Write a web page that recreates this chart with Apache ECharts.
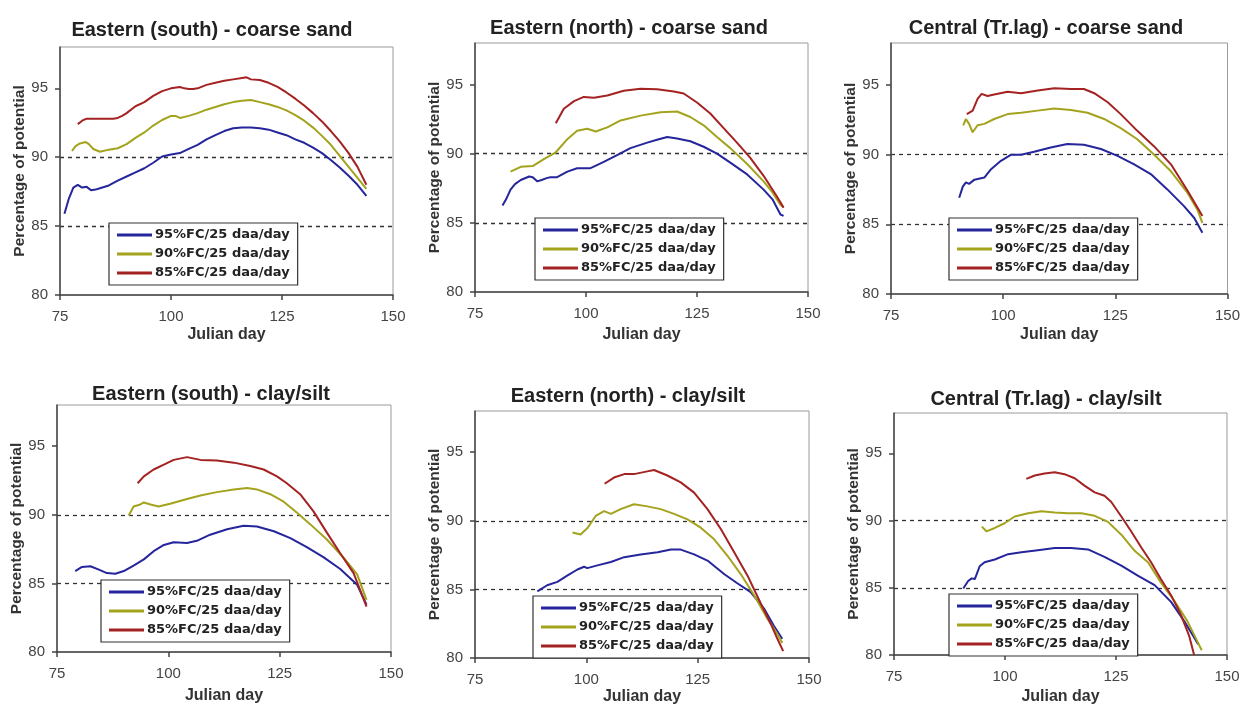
<!DOCTYPE html>
<html>
<head>
<meta charset="utf-8">
<script src="https://cdn.jsdelivr.net/npm/echarts@6/dist/echarts.min.js"></script>
<style>
html,body{margin:0;padding:0;background:#fff;}
#chart{width:1243px;height:706px;}
</style>
</head>
<body>
<div id="chart"></div>
<script>
// ---------- labels ----------
const panelTitles = [
  'Eastern (south) - coarse sand',
  'Eastern (north) - coarse sand',
  'Central (Tr.lag) - coarse sand',
  'Eastern (south) - clay/silt',
  'Eastern (north) - clay/silt',
  'Central (Tr.lag) - clay/silt'
];
const seriesNames = ['95%FC/25 daa/day', '90%FC/25 daa/day', '85%FC/25 daa/day'];
const xTicks = [75, 100, 125, 150];
const yTicks = [80, 85, 90, 95];
const xAxisName = 'Julian day';
const yAxisName = 'Percentage of potential';

// ---------- data: [Julian day, percentage of potential] ----------
// Panel 1: Eastern (south) - coarse sand
const esCoarse95 = [[76,85.9],[77,87.0],[78,87.8],[79,88.0],[80,87.8],[81,87.85],[82,87.6],[83,87.65],[84,87.75],[86,87.95],[88,88.3],[90,88.6],[92,88.9],[94,89.2],[96,89.6],[98,90.05],[100,90.2],[102,90.3],[104,90.6],[106,90.9],[108,91.3],[110,91.6],[112,91.9],[114,92.1],[116,92.15],[118,92.15],[120,92.1],[122,92.0],[124,91.8],[126,91.6],[128,91.3],[130,91.05],[132,90.7],[134,90.3],[136,89.8],[138,89.25],[140,88.65],[142,88.0],[144,87.2]];
const esCoarse90 = [[77.7,90.45],[78.5,90.8],[79.5,91.0],[80.8,91.1],[81.5,90.95],[82.5,90.6],[84,90.4],[86,90.55],[88,90.65],[90,90.95],[92,91.4],[94,91.8],[96,92.3],[98,92.7],[100,93.0],[101,93.0],[102,92.85],[104,93.0],[106,93.2],[108,93.45],[110,93.65],[112,93.85],[114,94.0],[116,94.1],[118,94.15],[120,94.0],[122,93.85],[124,93.65],[126,93.4],[128,93.05],[130,92.65],[132,92.15],[134,91.55],[136,90.9],[138,90.1],[140,89.3],[142,88.5],[144,87.7]];
const esCoarse85 = [[79,92.4],[80,92.65],[81,92.8],[83,92.8],[85,92.8],[87,92.8],[88,92.85],[89,93.0],[90,93.2],[92,93.7],[94,94.0],[96,94.45],[98,94.8],[100,95.0],[102,95.1],[103,95.0],[104,94.95],[105,94.95],[106,95.0],[108,95.25],[110,95.4],[112,95.55],[114,95.65],[116,95.75],[117,95.8],[118,95.65],[120,95.6],[122,95.4],[124,95.1],[126,94.7],[128,94.25],[130,93.75],[132,93.2],[134,92.6],[136,91.9],[138,91.15],[140,90.3],[142,89.3],[144,88.0]];

// Panel 2: Eastern (north) - coarse sand
const enCoarse95 = [[81.2,86.25],[82,86.7],[83,87.4],[84,87.8],[85.3,88.1],[87.2,88.35],[88,88.3],[89,88.0],[90,88.1],[91.3,88.25],[92,88.3],[93.5,88.3],[95.8,88.7],[98,88.95],[101,88.95],[102,89.1],[104,89.4],[107,89.9],[110,90.4],[113.8,90.8],[116,91.0],[118.3,91.2],[120.5,91.1],[123.5,90.9],[126.5,90.5],[129.5,90.0],[132.5,89.35],[136.3,88.5],[140,87.4],[142,86.7],[143.8,85.6],[144.5,85.5]];
const enCoarse90 = [[83,88.7],[85.3,89.05],[88,89.1],[90.5,89.6],[93.2,90.1],[95.8,91.05],[98,91.65],[100.3,91.8],[102.2,91.6],[104.8,91.9],[107.8,92.4],[112.3,92.75],[116.8,93.0],[120.5,93.05],[123.5,92.65],[126.5,92.05],[129.5,91.2],[132.5,90.4],[136.3,89.25],[140,88.0],[142,87.2],[143.8,86.3],[144.5,86.1]];
const enCoarse85 = [[93.2,92.2],[95,93.25],[97.3,93.8],[99.5,94.1],[101.8,94.05],[104.8,94.2],[108.5,94.55],[112.3,94.7],[116,94.65],[119.8,94.5],[122,94.35],[125,93.7],[128,92.9],[131,91.85],[134,90.8],[137,89.7],[140,88.4],[143,86.9],[144.5,86.1]];

// Panel 3: Central (Tr.lag) - coarse sand
const ctCoarse95 = [[90.2,86.9],[91,87.7],[91.7,88.0],[92.4,87.9],[93.6,88.2],[95.8,88.35],[97.3,88.95],[99.5,89.55],[101.7,89.98],[104,89.98],[106.9,90.2],[110.6,90.5],[114.3,90.75],[118,90.7],[121.8,90.4],[125.5,89.9],[129.2,89.3],[132.9,88.6],[136.6,87.5],[140.3,86.3],[142.6,85.45],[144.4,84.4]];
const ctCoarse90 = [[91.1,92.1],[91.7,92.55],[92.4,92.2],[93.2,91.6],[94.3,92.1],[95.8,92.2],[98,92.55],[101,92.9],[104,93.0],[107.7,93.15],[111.4,93.3],[115.1,93.2],[118.8,93.0],[122.5,92.55],[126.2,91.9],[129.9,91.1],[133.6,90.0],[137.4,88.8],[141.1,87.25],[143.3,86.05],[144.4,85.1]];
const ctCoarse85 = [[91.9,92.9],[93.2,93.15],[94.3,94.0],[95.2,94.35],[96.5,94.2],[98,94.3],[101,94.5],[104,94.4],[107.7,94.6],[111.4,94.75],[115.1,94.7],[118,94.7],[120.3,94.4],[123.3,93.75],[126.2,92.9],[129.9,91.7],[133.6,90.6],[137.4,89.3],[141.1,87.4],[143.3,86.2],[144.4,85.6]];

// Panel 4: Eastern (south) - clay/silt
const esClay95 = [[79.1,85.9],[80.6,86.2],[82.5,86.25],[84.4,86.0],[86.2,85.75],[88.1,85.7],[90,85.9],[92.2,86.3],[94.5,86.75],[96.7,87.35],[99,87.8],[101.2,88.0],[104.2,87.95],[106.4,88.1],[109.4,88.55],[113.2,88.95],[116.9,89.2],[119.9,89.15],[123.7,88.8],[127.4,88.3],[131.1,87.65],[134.9,86.9],[138.6,86.05],[142.4,84.9],[144.5,83.45]];
const esClay90 = [[91.1,89.95],[92.2,90.6],[93.7,90.75],[94.5,90.9],[96,90.75],[97.8,90.6],[100.4,90.8],[104.2,91.15],[107.2,91.4],[110.9,91.65],[114.7,91.85],[117.7,91.95],[119.9,91.85],[122.9,91.5],[125.9,90.95],[128.9,90.15],[131.9,89.3],[135.6,88.2],[139.4,86.85],[142.4,85.65],[144.5,83.8]];
const esClay85 = [[93.1,92.3],[94.5,92.8],[96.7,93.3],[99,93.65],[101.2,94.0],[104.2,94.2],[107.2,94.0],[110.9,93.95],[114.7,93.8],[118.4,93.55],[121.4,93.3],[124.4,92.8],[126.6,92.3],[129.6,91.5],[132.6,90.25],[135.6,88.7],[138.6,87.2],[141.6,85.75],[144.5,83.3]];

// Panel 5: Eastern (north) - clay/silt
const enClay95 = [[89,84.85],[91.2,85.3],[93.5,85.55],[95.7,86.0],[98,86.45],[99.5,86.65],[100.2,86.55],[102.5,86.75],[105.5,87.0],[108.5,87.35],[112.2,87.55],[116,87.7],[119,87.9],[121.2,87.9],[124.2,87.55],[127.2,87.1],[131,86.1],[133.9,85.45],[136.9,84.8],[139.9,83.6],[142.1,82.35],[144,81.4]];
const enClay90 = [[96.9,89.15],[98.7,89.0],[100.2,89.45],[102.1,90.35],[104,90.7],[105.5,90.5],[107.7,90.85],[110.7,91.2],[113.7,91.05],[116.7,90.85],[119.7,90.5],[122.7,90.1],[125.7,89.5],[128.7,88.65],[131.7,87.45],[134.7,86.1],[137.7,84.55],[140.7,82.85],[142.9,81.75],[144,81.1]];
const enClay85 = [[104.1,92.7],[106.2,93.15],[108.5,93.4],[110.7,93.4],[113.7,93.6],[115.2,93.7],[118.2,93.3],[121.2,92.8],[124.2,92.05],[127.2,90.85],[130.2,89.4],[133.2,87.7],[136.2,86.0],[139.2,83.95],[141.4,82.5],[142.9,81.4],[144.2,80.5]];

// Panel 6: Central (Tr.lag) - clay/silt
const ctClay95 = [[90.6,84.95],[91.7,85.5],[92.5,85.7],[93.2,85.65],[94.3,86.6],[95.4,86.9],[97.7,87.1],[100.7,87.5],[103.7,87.65],[107.4,87.8],[111.2,87.95],[114.9,87.95],[118.7,87.85],[122.4,87.3],[126.2,86.65],[129.9,85.9],[133.7,85.2],[137.4,83.95],[140.4,82.5],[142.6,81.3],[143.5,80.8]];
const ctClay90 = [[94.8,89.55],[95.8,89.2],[97.7,89.45],[99.9,89.8],[102.2,90.3],[105.2,90.55],[108.2,90.7],[111.2,90.6],[114.2,90.55],[117.2,90.55],[120.2,90.35],[123.2,89.9],[126.2,88.95],[129.2,87.75],[132.2,86.9],[135.1,85.4],[138.1,84.05],[141.1,82.5],[142.6,81.5],[144.3,80.35]];
const ctClay85 = [[104.8,93.1],[106.7,93.35],[108.9,93.5],[111.2,93.6],[113.4,93.45],[115.7,93.15],[117.9,92.6],[120.2,92.1],[122.4,91.85],[123.9,91.4],[126.2,90.3],[128.4,89.2],[130.7,88.0],[132.9,86.9],[135.1,85.65],[137.4,84.45],[139.6,83.0],[141.5,81.4],[142.6,80.0]];

const panelData = [
  [esCoarse95, esCoarse90, esCoarse85],
  [enCoarse95, enCoarse90, enCoarse85],
  [ctCoarse95, ctCoarse90, ctCoarse85],
  [esClay95, esClay90, esClay85],
  [enClay95, enClay90, enClay85],
  [ctClay95, ctClay90, ctClay85]
];

// ---------- layout & style ----------
const seriesColors = ['#25259c', '#a3a31e', '#a42222'];
// plot area boxes [left, top, right, bottom]
const boxes = [
  [60, 47, 393, 295],
  [475, 43, 808, 292],
  [891, 43, 1228, 294],
  [57, 405, 391, 652],
  [475, 411, 809, 659],
  [894, 413, 1227, 660]
];
const titlePos = [[207, 13], [624, 11], [1041, 11], [206, 377], [623, 379], [1041, 382]];
const legendPos = [[109, 223], [535, 218], [949, 218], [101, 580], [533, 596], [949, 594]];
const xNameGap = [32, 35, 33, 36, 31, 34];
const yNameGap = [32, 30, 28, 29, 30, 30];

const grids = [], xAxes = [], yAxes = [], series = [], titles = [], legends = [];

boxes.forEach((b, i) => {
  grids.push({
    left: b[0], top: b[1], width: b[2] - b[0], height: b[3] - b[1],
    show: true, borderColor: '#9a9a9a', borderWidth: 1, backgroundColor: '#fff'
  });
  xAxes.push({
    type: 'value', gridIndex: i, min: xTicks[0], max: xTicks[xTicks.length - 1], interval: 25,
    name: xAxisName, nameLocation: 'middle', nameGap: xNameGap[i],
    nameTextStyle: { fontFamily: 'Liberation Sans, Arial', fontWeight: 'bold', fontSize: 16, color: '#333' },
    axisLine: { show: true, onZero: false, lineStyle: { color: '#444', width: 1.5 } },
    axisTick: { show: true, length: 5, lineStyle: { color: '#444', width: 1.5 } },
    axisLabel: { fontFamily: 'Liberation Sans, Arial', fontSize: 15, color: '#444', margin: 14 },
    splitLine: { show: false }
  });
  yAxes.push({
    type: 'value', gridIndex: i, min: 80, max: 98, interval: 5,
    name: yAxisName, nameLocation: 'middle', nameGap: yNameGap[i],
    nameTextStyle: { fontFamily: 'Liberation Sans, Arial', fontWeight: 'bold', fontSize: 15.5, color: '#333' },
    axisLine: { show: true, onZero: false, lineStyle: { color: '#444', width: 1.5 } },
    axisTick: { show: true, length: 5, customValues: yTicks, lineStyle: { color: '#444', width: 1.5 } },
    axisLabel: { fontFamily: 'Liberation Sans, Arial', fontSize: 15, color: '#444', margin: 12, customValues: yTicks },
    splitLine: { show: true, showMinLine: false, showMaxLine: false, lineStyle: { color: '#333', width: 1.3, type: [4, 4] } }
  });
  titles.push({
    text: panelTitles[i], left: titlePos[i][0], top: titlePos[i][1], textAlign: 'center',
    textStyle: { fontFamily: 'Liberation Sans, Arial', fontWeight: 'bold', fontSize: 20, color: '#222', lineHeight: 24 }
  });
  legends.push({
    left: legendPos[i][0], top: legendPos[i][1], orient: 'vertical',
    data: seriesNames, icon: 'rect', itemWidth: 35, itemHeight: 3, itemGap: 3,
    padding: [4, 8, 4, 8], backgroundColor: '#fff', borderColor: '#333', borderWidth: 1.2,
    selectedMode: false,
    textStyle: { fontFamily: 'DejaVu Sans', fontWeight: 'bold', fontSize: 13, color: '#222', lineHeight: 16, padding: [0, 0, 0, -2] }
  });
  panelData[i].forEach((d, k) => {
    series.push({
      type: 'line', name: seriesNames[k], xAxisIndex: i, yAxisIndex: i,
      data: d, showSymbol: false, symbol: 'none', smooth: false, animation: false,
      color: seriesColors[k],
      lineStyle: { color: seriesColors[k], width: 2 }
    });
  });
});

const chart = echarts.init(document.getElementById('chart'), null, { renderer: 'canvas' });
chart.setOption({
  backgroundColor: '#fff',
  animation: false,
  title: titles,
  legend: legends,
  grid: grids,
  xAxis: xAxes,
  yAxis: yAxes,
  series: series
});
</script>
</body>
</html>
